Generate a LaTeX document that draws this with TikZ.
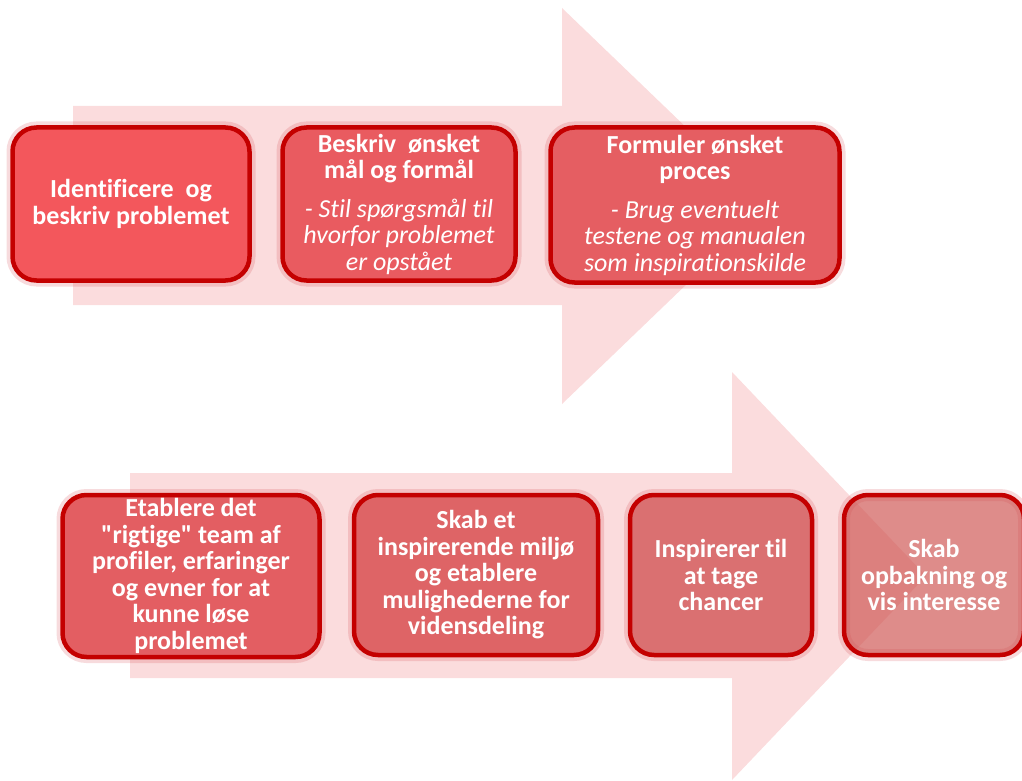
\documentclass[tikz,border=0pt]{standalone}
\usepackage{fontspec}
\setmainfont{Carlito}[Ligatures={TeXOff,NoCommon}]
\usetikzlibrary{calc}

\definecolor{randrod}{HTML}{C40000}
\definecolor{pilrosa}{HTML}{FBDCDD}
\definecolor{gloed}{HTML}{D03A40}
\definecolor{felta}{HTML}{F3575C}
\definecolor{feltb}{HTML}{E95B60}
\definecolor{feltc}{HTML}{E55E62}
\definecolor{feltd}{HTML}{E35E62}
\definecolor{felte}{HTML}{DE6466}
\definecolor{feltf}{HTML}{DA7071}
\definecolor{feltg}{HTML}{CE5552}

\newcommand{\kursiv}[1]{{\mdseries\itshape #1}}

\tikzset{
    pilflade/.style={fill=pilrosa},
    trinboks/.style={draw=randrod, line width=4.5pt, rounded corners=24pt,
        text=white, align=center, inner sep=0pt,
        font=\bfseries\fontsize{26}{26.5}\selectfont,
        preaction={draw=gloed, line width=12pt, draw opacity=0.18}}
}

\begin{document}
\begin{tikzpicture}[x=1pt,y=-1pt]
        \useasboundingbox (0,0) rectangle (1022,781);
        \fill[pilflade] (73,106) -- (562,106) -- (562,8) -- (768,206) -- (562,404) -- (562,305) -- (73,305) -- cycle;
        \fill[pilflade] (130,473) -- (732,473) -- (732,372) -- (926,576) -- (732,780) -- (732,678) -- (130,678) -- cycle;
        \node[trinboks, fill=felta, minimum width=237pt, minimum height=153pt] (identificer) at (131,204) {Identificere\ \ og\\beskriv problemet};
        \node[trinboks, fill=feltb, minimum width=233pt, minimum height=153pt] (maal) at (399,204) {Beskriv\ \ ønsket\\mål og formål\\[12pt]\kursiv{- Stil spørgsmål til}\\\kursiv{hvorfor problemet}\\\kursiv{er opstået}};
        \node[trinboks, fill=feltc, minimum width=289pt, minimum height=155pt] (proces) at (695,205) {Formuler ønsket\\proces\\[12pt]\kursiv{- Brug eventuelt}\\\kursiv{testene og manualen}\\\kursiv{som inspirationskilde}};
        \node[trinboks, fill=feltd, minimum width=257pt, minimum height=162pt] (team) at (191,576) {Etablere det\\"rigtige" team af\\profiler, erfaringer\\og evner for at\\kunne løse\\problemet};
        \node[trinboks, fill=felte, minimum width=244pt, minimum height=160pt] (miljo) at (476,575) {Skab et\\inspirerende miljø\\og etablere\\mulighederne for\\vidensdeling};
        \node[trinboks, fill=feltf, minimum width=182pt, minimum height=160pt] (chancer) at (721,575) {Inspirerer til\\at tage\\chancer};
        \node[trinboks, fill=feltg, fill opacity=0.68, text opacity=1, minimum width=180pt, minimum height=160pt] (opbakning) at (934,575) {Skab\\opbakning og\\vis interesse};
    \end{tikzpicture}
\end{document}
